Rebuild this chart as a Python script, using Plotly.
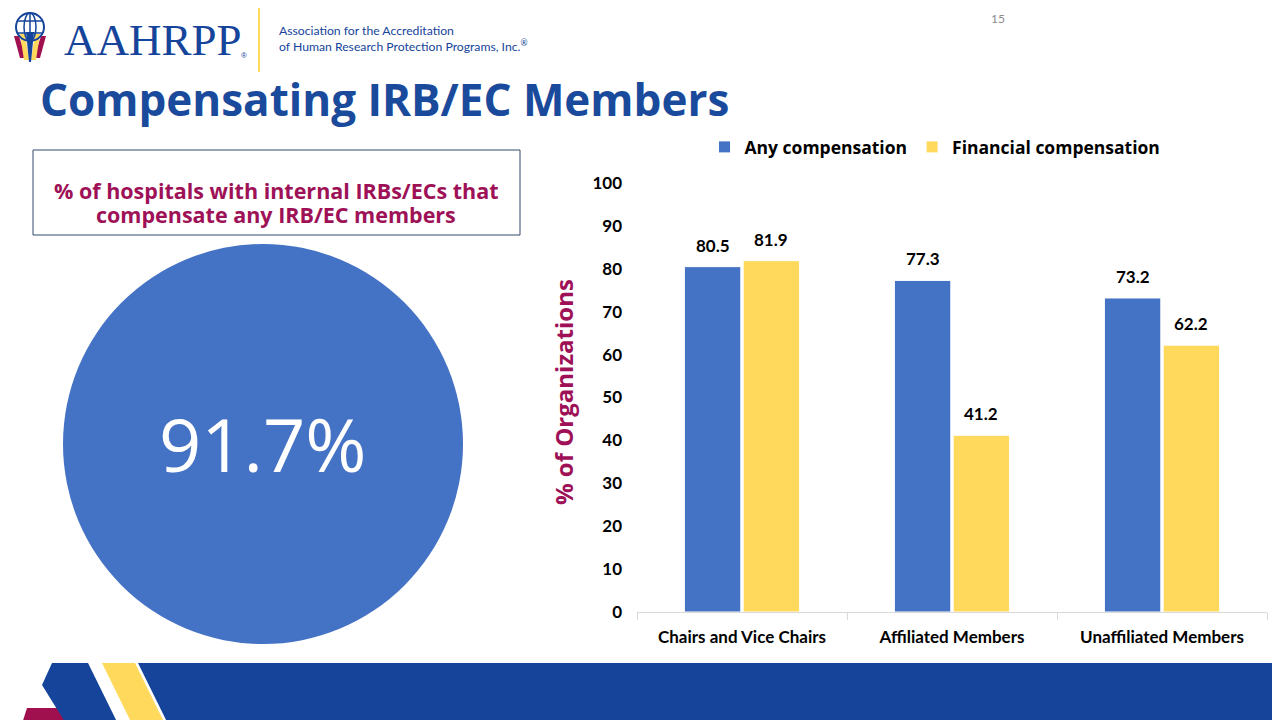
import plotly.graph_objects as go

W, H = 1280, 720
OFF = 8  # page body margin

# data
categories = ["Chairs and Vice Chairs", "Affiliated Members", "Unaffiliated Members"]
any_comp = [80.5, 77.3, 73.2]
financial_comp = [81.9, 41.2, 62.2]
hospital_pct = 91.7
y_ticks = [0, 10, 20, 30, 40, 50, 60, 70, 80, 90, 100]

BLUE = "#4472C4"
YELLOW = "#FFD95C"
NAVY = "#15449A"
MAROON = "#9E1157"

X0, X1 = 637, 1267  # plot area in screen px
BARGAP = 0.44


def px(x):
    return (x - OFF) / W


def py(y):
    return 1 - (y - OFF) / H


def path(points):
    pts = [f"{px(x):.5f},{py(y):.5f}" for x, y in points]
    return "M " + " L ".join(pts) + " Z"


def poly(points, color):
    return dict(type="path", xref="paper", yref="paper", line_width=0, fillcolor=color, path=path(points))


def note(x, y, text, font, **kw):
    return dict(x=px(x), y=py(y), xref="paper", yref="paper", text=text, showarrow=False, font=font, **kw)


fig = go.Figure()
fig.add_trace(go.Bar(
    x=categories, y=any_comp, name="Any compensation",
    marker=dict(color=BLUE, line=dict(color="white", width=1)),
))
fig.add_trace(go.Bar(
    x=categories, y=financial_comp, name="Financial compensation",
    marker=dict(color=YELLOW, line=dict(color="white", width=1)),
))

shapes = [
    # bottom decoration
    poly([(27, 708), (62, 708), (68, 730), (20, 730)], "#A0104F"),
    poly([(52, 663), (88, 663), (121, 730), (70, 730), (42, 685)], NAVY),
    poly([(102, 663), (135, 663), (168, 730), (135, 730)], YELLOW),
    poly([(138, 663), (1290, 663), (1290, 730), (171, 730)], NAVY),
    # globe logo figures
    poly([(14, 36), (19, 36), (26, 58), (20, 58)], "#A0104F"),
    poly([(41, 36), (46, 36), (40, 58), (34, 58)], "#A0104F"),
    poly([(20, 34), (25, 34), (29, 60), (24, 60)], YELLOW),
    poly([(35, 34), (40, 34), (36, 60), (31, 60)], YELLOW),
    poly([(26, 32), (34, 32), (31, 62), (29, 62)], NAVY),
]

# header divider
shapes.append(dict(type="line", xref="paper", yref="paper", x0=px(259), x1=px(259), y0=py(8), y1=py(72),
                   line=dict(color=YELLOW, width=2)))

# globe
shapes.append(dict(type="circle", xref="paper", yref="paper", x0=px(16), x1=px(44), y0=py(41), y1=py(13),
                   line=dict(color=NAVY, width=2)))
shapes.append(dict(type="circle", xref="paper", yref="paper", x0=px(24), x1=px(36), y0=py(41), y1=py(13),
                   line=dict(color=NAVY, width=1.5)))
for yy in (21, 33):
    shapes.append(dict(type="line", xref="paper", yref="paper", x0=px(18), x1=px(42), y0=py(yy), y1=py(yy),
                       line=dict(color=NAVY, width=1.5)))
shapes.append(dict(type="line", xref="paper", yref="paper", x0=px(30), x1=px(30), y0=py(13), y1=py(41),
                   line=dict(color=NAVY, width=1.5)))

# text box
shapes.append(dict(type="rect", xref="paper", yref="paper", x0=px(33), x1=px(520), y0=py(235), y1=py(150),
                   line=dict(color="#2E4A6B", width=1), fillcolor="rgba(0,0,0,0)"))
# big circle
shapes.append(dict(type="circle", xref="paper", yref="paper", x0=px(63), x1=px(463), y0=py(644), y1=py(244),
                   line_width=0, fillcolor=BLUE))

box_font = dict(family="Open Sans", size=21.5, color=MAROON, weight="bold")
annotations = [
    note(62, 40, "AAHRPP", dict(family="Liberation Serif", size=45, color=NAVY), xanchor="left", yanchor="middle"),
    note(239, 56, "®", dict(family="Liberation Sans", size=8, color=NAVY), xanchor="left", yanchor="middle"),
    note(277, 39, "Association for the Accreditation<br>of Human Research Protection Programs, Inc.<sup>®</sup>",
         dict(family="Lato", size=12.2, color=NAVY), xanchor="left", yanchor="middle", align="left"),
    note(998, 19, "15", dict(family="Lato", size=12, color="#8C8C8C"), xanchor="center", yanchor="middle"),
    note(38, 99, "Compensating IRB/EC Members", dict(family="Open Sans", size=44, color="#1A4A9B", weight="bold"),
         xanchor="left", yanchor="middle"),
    note(276, 190, "% of hospitals with internal IRBs/ECs that", box_font, xanchor="center", yanchor="middle"),
    note(276, 214, "compensate any IRB/EC members", box_font, xanchor="center", yanchor="middle"),
    note(263, 444, f"{hospital_pct}%", dict(family="Open Sans", size=74, color="white"),
         xanchor="center", yanchor="middle"),
    note(563, 392, "% of Organizations", dict(family="Open Sans", size=24, color=MAROON, weight="bold"),
         textangle=-90, xanchor="center", yanchor="middle"),
]

# value labels above bars
cat_px = (X1 - X0) / len(categories)
half = cat_px * (1 - BARGAP) / 4
for series, shift in [(any_comp, -half), (financial_comp, half)]:
    for cat, v in zip(categories, series):
        annotations.append(dict(
            x=cat, y=v, xref="x", yref="y", text=f"{v:.1f}", showarrow=False,
            xshift=shift, yshift=9, yanchor="bottom", xanchor="center",
            font=dict(family="Lato", size=17, color="black", weight="bold"),
        ))

fig.update_layout(
    width=W, height=H,
    margin=dict(l=0, r=0, t=0, b=0, autoexpand=False),
    paper_bgcolor="white", plot_bgcolor="white",
    barmode="group", bargap=BARGAP, bargroupgap=0.04,
    shapes=shapes, annotations=annotations,
    legend=dict(orientation="h", x=px(935), y=py(147), xanchor="center", yanchor="middle",
                font=dict(family="Open Sans", size=17.5, color="black", weight="bold"),
                itemwidth=30, traceorder="normal"),
    xaxis=dict(domain=[px(X0), px(X1)], showline=True, linecolor="#D9D9D9", linewidth=1,
               ticks="outside", tickson="boundaries", ticklen=7, tickcolor="#D9D9D9",
               ticklabelstandoff=10,
               tickfont=dict(family="Lato", size=17, color="black", weight="bold"),
               showgrid=False, fixedrange=True),
    yaxis=dict(domain=[py(612), py(183)], range=[0, 100], tickvals=y_ticks, showgrid=False,
               zeroline=False, showline=False, ticks="", ticklabelstandoff=14,
               tickfont=dict(family="Lato", size=17, color="black", weight="bold"), fixedrange=True),
    showlegend=True,
)

fig.write_html("out.html")
